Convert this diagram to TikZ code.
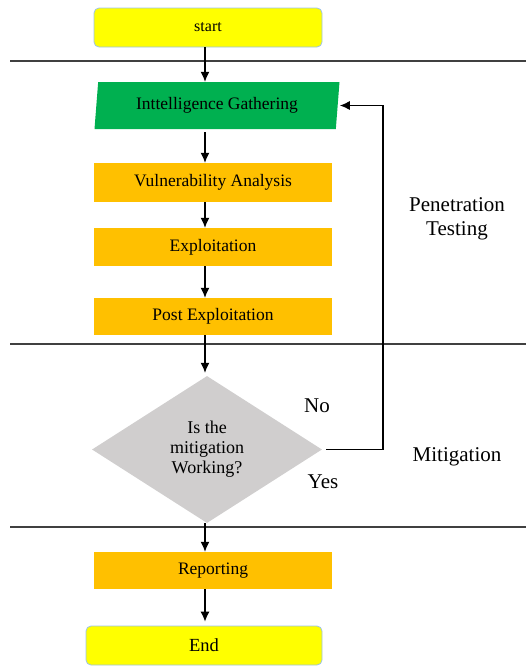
\documentclass[tikz,border=0pt]{standalone}
\usepackage{fontspec}
\setmainfont{Liberation Serif}
\usetikzlibrary{shapes.geometric,arrows.meta}

\definecolor{termfill}{HTML}{FFFF00}
\definecolor{termline}{HTML}{9DC3E6}
\definecolor{igfill}{HTML}{00B050}
\definecolor{stepfill}{HTML}{FFC000}
\definecolor{decfill}{HTML}{D0CECE}
\definecolor{sepline}{HTML}{404040}

\tikzset{
    term/.style={draw=termline, fill=termfill, rounded corners=5pt, line width=0.8pt,
        minimum width=228pt, minimum height=39pt, inner sep=0pt, font=\fontsize{16}{19}\selectfont},
    stepbox/.style={fill=stepfill, minimum width=238pt, minimum height=38pt, inner sep=0pt,
        font=\fontsize{17.5}{20}\selectfont},
    arr/.style={-{Latex[length=10pt,width=9pt]}, line width=1.1pt},
    sep/.style={draw=sepline, line width=1.3pt},
    lbl/.style={font=\fontsize{21}{24}\selectfont, align=center}
}

\begin{document}
\begin{tikzpicture}[x=1pt, y=1pt]
    \useasboundingbox (0,0) rectangle (526,-667);

    % arrow column
    \coordinate (ax) at (205,0);
    \coordinate (lp) at (383,0);

    % Terminals
    \node[term] (start) at (208,-27.5) {start};
    \node[term, minimum width=236pt, font=\fontsize{18.5}{21}\selectfont] (fin) at (204,-645.5) {End};

    % Input
    \node[trapezium, trapezium left angle=77, trapezium right angle=103,
          trapezium stretches body, fill=igfill, minimum width=245pt, minimum height=47pt,
          inner sep=0pt, font=\fontsize{17.5}{20}\selectfont] (ig) at (217,-105.5) {Inttelligence Gathering};

    % Steps
    \node[stepbox, minimum height=39pt] (va) at (213,-182.5) {Vulnerability Analysis};
    \node[stepbox] (ex) at (213,-247) {Exploitation};
    \node[stepbox, minimum height=37pt] (pe) at (213,-316.5) {Post Exploitation};
    \node[stepbox, minimum height=37pt] (rep) at (213,-570.5) {Reporting};

    % Decision
    \node[diamond, fill=decfill, minimum width=230pt, minimum height=147pt, inner sep=0pt,
          align=center, font=\fontsize{18}{20}\selectfont] (dec) at (207,-449.5)
          {Is the\\mitigation\\Working?};

    % Separators
    \draw[sep] (10,-61) -- (526,-61);
    \draw[sep] (10,-344) -- (526,-344);
    \draw[sep] (10,-527) -- (526,-527);

    % Lines
    \draw[arr] (start.south -| ax) -- (ig.north -| ax);
    \draw[arr] ([yshift=-3pt]ig.south -| ax) -- (va.north -| ax);
    \draw[arr] (va.south -| ax) -- (ex.north -| ax);
    \draw[arr] (ex.south -| ax) -- (pe.north -| ax);
    \draw[arr] (pe.south -| ax) -- ([yshift=3pt]dec.north -| ax);
    \draw[arr] (dec.south -| ax) -- (rep.north -| ax);
    \draw[arr] (rep.south -| ax) -- ([yshift=4pt]fin.north -| ax);
    \draw[arr] ([xshift=4pt]dec.east) -| (lp |- ig.east) -- ([xshift=2pt]ig.east);

    % Annotations
    \node[lbl] (no) at (317,-406) {No};
    \node[lbl] (yes) at (323,-482) {Yes};
    \node[lbl] (pt) at (457,-219) {Penetration\\Testing};
    \node[lbl] (mit) at (457,-457) {Mitigation};
\end{tikzpicture}
\end{document}
